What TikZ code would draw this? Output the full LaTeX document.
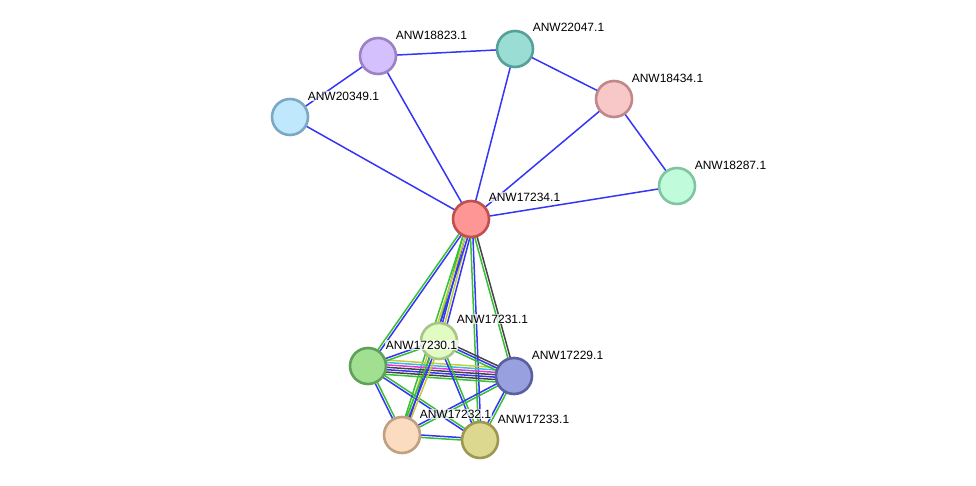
\documentclass[tikz,border=0pt]{standalone}
\usepackage{fontspec}
\setmainfont{Liberation Sans}
\usetikzlibrary{calc}
\usetikzlibrary{backgrounds}

\definecolor{evblue}{HTML}{3535F5}
\definecolor{evgreen}{HTML}{35C035}
\definecolor{evyellow}{HTML}{C4CC3A}
\definecolor{evblack}{HTML}{454545}
\definecolor{evpink}{HTML}{E03CE0}
\definecolor{evcyan}{HTML}{3CBCE0}

% one evidence line between two nodes, shifted sideways by #3
\newcommand{\evline}[4]{\draw[ev, #4] ($(#1)!#3!90:(#2)$) -- ($(#2)!#3!-90:(#1)$);}

\begin{document}
\begin{tikzpicture}[x=1pt, y=-1pt]
\tikzstyle{prot} = [circle, minimum size=36pt, inner sep=0pt, line width=2.6pt]
\tikzstyle{lbl} = [anchor=west, inner sep=0.6pt, fill=white, fill opacity=0.75, text opacity=1, font=\fontsize{12}{14}\selectfont]
\tikzstyle{ev} = [line width=1.5pt]

\useasboundingbox (0,0) rectangle (976,486);

% Proteins
\node (n17234) [prot, draw={rgb,255:red,192;green,80;blue,80}, fill={rgb,255:red,255;green,150;blue,150}] at (471,219) {};
\node (n18823) [prot, draw={rgb,255:red,154;green,130;blue,196}, fill={rgb,255:red,212;green,192;blue,252}] at (378,56) {};
\node (n22047) [prot, draw={rgb,255:red,85;green,160;blue,152}, fill={rgb,255:red,153;green,221;blue,212}] at (515,49) {};
\node (n20349) [prot, draw={rgb,255:red,124;green,168;blue,196}, fill={rgb,255:red,192;green,232;blue,252}] at (290,117) {};
\node (n18434) [prot, draw={rgb,255:red,192;green,136;blue,136}, fill={rgb,255:red,248;green,200;blue,200}] at (614,99) {};
\node (n18287) [prot, draw={rgb,255:red,128;green,196;blue,160}, fill={rgb,255:red,192;green,252;blue,220}] at (677,186) {};
\node (n17231) [prot, draw={rgb,255:red,168;green,196;blue,136}, fill={rgb,255:red,224;green,252;blue,192}] at (439,341) {};
\node (n17230) [prot, draw={rgb,255:red,96;green,160;blue,88}, fill={rgb,255:red,160;green,224;blue,144}] at (368,366) {};
\node (n17229) [prot, draw={rgb,255:red,88;green,96;blue,160}, fill={rgb,255:red,152;green,160;blue,224}] at (514,376) {};
\node (n17232) [prot, draw={rgb,255:red,192;green,160;blue,128}, fill={rgb,255:red,252;green,220;blue,192}] at (402,435) {};
\node (n17233) [prot, draw={rgb,255:red,156;green,152;blue,80}, fill={rgb,255:red,220;green,216;blue,144}] at (480,440) {};

% Labels
\node (l17234) [lbl] at (488,197) {ANW17234.1};
\node (l18823) [lbl] at (395,35) {ANW18823.1};
\node (l22047) [lbl] at (532,27) {ANW22047.1};
\node (l20349) [lbl] at (307,96) {ANW20349.1};
\node (l18434) [lbl] at (631,78) {ANW18434.1};
\node (l18287) [lbl] at (694,165) {ANW18287.1};
\node (l17231) [lbl] at (456,319) {ANW17231.1};
\node (l17230) [lbl] at (385,345) {ANW17230.1};
\node (l17229) [lbl] at (531,355) {ANW17229.1};
\node (l17232) [lbl] at (419,414) {ANW17232.1};
\node (l17233) [lbl] at (497,419) {ANW17233.1};

\begin{pgfonlayer}{background}
% Upper part, single lines
\evline{n17234}{n20349}{0pt}{evblue}
\evline{n17234}{n18823}{0pt}{evblue}
\evline{n17234}{n22047}{0pt}{evblue}
\evline{n17234}{n18434}{0pt}{evblue}
\evline{n17234}{n18287}{0pt}{evblue}
\evline{n18823}{n20349}{0pt}{evblue}
\evline{n18823}{n22047}{0pt}{evblue}
\evline{n22047}{n18434}{0pt}{evblue}
\evline{n18434}{n18287}{0pt}{evblue}

% From ANW17234.1 down to the cluster
\evline{n17234}{n17230}{-1.2pt}{evgreen}
\evline{n17234}{n17230}{1.2pt}{evblue}
\evline{n17234}{n17231}{-3.6pt}{evgreen}
\evline{n17234}{n17231}{-1.2pt}{evblue}
\evline{n17234}{n17231}{1.2pt}{evyellow}
\evline{n17234}{n17231}{3.6pt}{evblue}
\evline{n17234}{n17232}{-2.4pt}{evgreen}
\evline{n17234}{n17232}{0pt}{evyellow}
\evline{n17234}{n17232}{2.4pt}{evblue}
\evline{n17234}{n17233}{-1.2pt}{evgreen}
\evline{n17234}{n17233}{1.2pt}{evblue}
\evline{n17234}{n17229}{-1.2pt}{evgreen}
\evline{n17234}{n17229}{1.2pt}{evblack}

% Inside the cluster
\evline{n17230}{n17229}{7.2pt}{evyellow}
\evline{n17230}{n17229}{4.8pt}{evcyan}
\evline{n17230}{n17229}{2.4pt}{evpink}
\evline{n17230}{n17229}{0pt}{evblack}
\evline{n17230}{n17229}{-2.4pt}{evblue}
\evline{n17230}{n17229}{-4.8pt}{evblack}
\evline{n17230}{n17229}{-7.2pt}{evgreen}
\evline{n17231}{n17229}{2.4pt}{evblack}
\evline{n17231}{n17229}{0pt}{evblue}
\evline{n17231}{n17229}{-2.4pt}{evgreen}
\evline{n17230}{n17231}{-1.2pt}{evgreen}
\evline{n17230}{n17231}{1.2pt}{evblue}
\evline{n17230}{n17232}{-1.2pt}{evblue}
\evline{n17230}{n17232}{1.2pt}{evgreen}
\evline{n17230}{n17233}{-1.2pt}{evblue}
\evline{n17230}{n17233}{1.2pt}{evgreen}
\evline{n17231}{n17232}{-2.4pt}{evgreen}
\evline{n17231}{n17232}{0pt}{evblue}
\evline{n17231}{n17232}{2.4pt}{evyellow}
\evline{n17231}{n17233}{-1.2pt}{evblue}
\evline{n17231}{n17233}{1.2pt}{evgreen}
\evline{n17229}{n17232}{-1.2pt}{evblue}
\evline{n17229}{n17232}{1.2pt}{evgreen}
\evline{n17229}{n17233}{-1.2pt}{evblue}
\evline{n17229}{n17233}{1.2pt}{evgreen}
\evline{n17232}{n17233}{-1.2pt}{evgreen}
\evline{n17232}{n17233}{1.2pt}{evblue}
\end{pgfonlayer}
\end{tikzpicture}
\end{document}
